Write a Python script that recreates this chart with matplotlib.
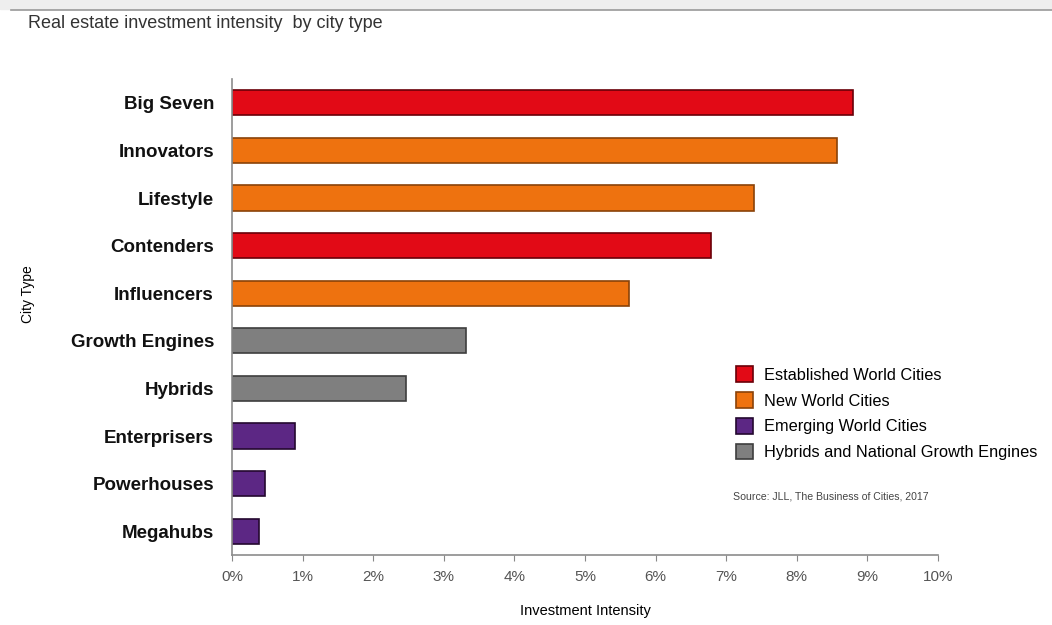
import numpy as np
import matplotlib.pyplot as plt
from matplotlib.patches import Patch

plt.rcParams['font.family'] = ['Liberation Sans', 'DejaVu Sans']

# data, top to bottom
cities = ["Big Seven", "Innovators", "Lifestyle", "Contenders", "Influencers",
          "Growth Engines", "Hybrids", "Enterprisers", "Powerhouses", "Megahubs"]
intensity = [8.80, 8.57, 7.40, 6.78, 5.63, 3.31, 2.47, 0.89, 0.47, 0.38]
group = ["est", "new", "new", "est", "new", "hyb", "hyb", "emg", "emg", "emg"]

group_names = ["Established World Cities", "New World Cities",
               "Emerging World Cities", "Hybrids and National Growth Engines"]
group_keys = ["est", "new", "emg", "hyb"]
fills = {"est": "#e20a16", "new": "#ee720f", "emg": "#5c2784", "hyb": "#7f7f7f"}
edges = {"est": "#6a0008", "new": "#8a4208", "emg": "#24082f", "hyb": "#3e3e3e"}

fig = plt.figure(figsize=(10.52, 6.25), dpi=100)
ax = fig.add_axes([0.2205, 0.112, 0.6711, 0.7615])

ypos = np.arange(len(cities))
ax.barh(ypos, intensity, height=0.53,
        color=[fills[g] for g in group],
        edgecolor=[edges[g] for g in group], linewidth=1.2)

ax.set_ylim(len(cities) - 0.5, -0.5)
ax.set_xlim(0, 10)
ax.set_xticks(range(0, 11))
ax.set_xticklabels([f"{i}%" for i in range(0, 11)], fontsize=11, color="#555555")
ax.set_yticks(ypos)
ax.set_yticklabels(cities, fontsize=13.5, fontweight="bold", color="#111111")
ax.tick_params(axis="y", length=0, pad=13)
ax.tick_params(axis="x", length=4, color="#888888", pad=7)
for s in ["top", "right"]:
    ax.spines[s].set_visible(False)
for s in ["left", "bottom"]:
    ax.spines[s].set_color("#8c8c8c")
    ax.spines[s].set_linewidth(1.2)

ax.set_xlabel("Investment Intensity", fontsize=10.5, labelpad=14)
fig.text(0.027, 0.53, "City Type", rotation=90, fontsize=10,
         ha="center", va="center")

# title and screenshot frame
fig.text(0.027, 0.963, "Real estate investment intensity  by city type",
         fontsize=13, color="#333333", va="center")
fig.patches.append(plt.Rectangle((0, 0.985), 1, 0.015, transform=fig.transFigure,
                                 color="#eeeeee", zorder=0))
fig.lines.append(plt.Line2D([0.01, 1], [0.984, 0.984], transform=fig.transFigure,
                            color="#999999", linewidth=1.2))

handles = [Patch(facecolor=fills[k], edgecolor=edges[k], linewidth=1.2)
           for k in group_keys]
ax.legend(handles, group_names, loc="upper left", bbox_to_anchor=(0.705, 0.41),
          frameon=False, fontsize=11.8, handlelength=1.05, handleheight=1.1,
          handletextpad=0.65, labelspacing=0.57, borderaxespad=0)

fig.text(0.697, 0.206, "Source: JLL, The Business of Cities, 2017",
         fontsize=7.6, color="#444444", va="center")

fig.savefig("out.png", dpi=100)
